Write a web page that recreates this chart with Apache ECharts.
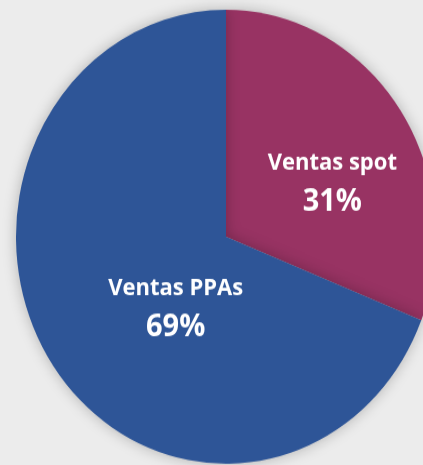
<!DOCTYPE html>
<html>
<head>
<meta charset="utf-8">
<script src="https://cdn.jsdelivr.net/npm/echarts@6/dist/echarts.min.js"></script>
<style>
  html, body { margin: 0; padding: 0; background: #ececec; overflow: hidden; }
  /* the source pie is slightly taller than wide, so stretch the canvas vertically */
  #pieChart { width: 423px; height: 465px; transform: scale(1, 1.081); transform-origin: 0 0; }
</style>
</head>
<body>
<div id="pieChart"></div>
<script>
  const categories = ['Ventas spot', 'Ventas PPAs'];
  const shares = [31, 69];
  const sliceColors = ['#983363', '#2e5597'];
  const labelOffsets = [[17, 10], [39, 5]];

  let pieChart = echarts.init(document.getElementById('pieChart'));
  pieChart.setOption({
    animation: false,
    series: [
      {
        type: 'pie',
        center: [226, 219],
        radius: 210,
        startAngle: 90,
        clockwise: true,
        percentPrecision: 0,
        data: categories.map((name, i) => ({
          name: name,
          value: shares[i],
          itemStyle: { color: sliceColors[i] },
          label: { offset: labelOffsets[i] }
        })),
        itemStyle: {
          borderWidth: 0,
          shadowBlur: 14,
          shadowColor: 'rgba(0, 0, 0, 0.25)'
        },
        label: {
          show: true,
          position: 'inside',
          formatter: '{n|{b}}\n{p|{d}%}',
          rich: {
            n: { color: '#fff', fontFamily: 'Open Sans', fontWeight: 'bold', fontSize: 22, lineHeight: 36 },
            p: { color: '#fff', fontFamily: 'Open Sans', fontWeight: 'bold', fontSize: 29, lineHeight: 36 }
          }
        },
        labelLine: { show: false },
        emphasis: { disabled: true }
      }
    ]
  });
</script>
</body>
</html>
